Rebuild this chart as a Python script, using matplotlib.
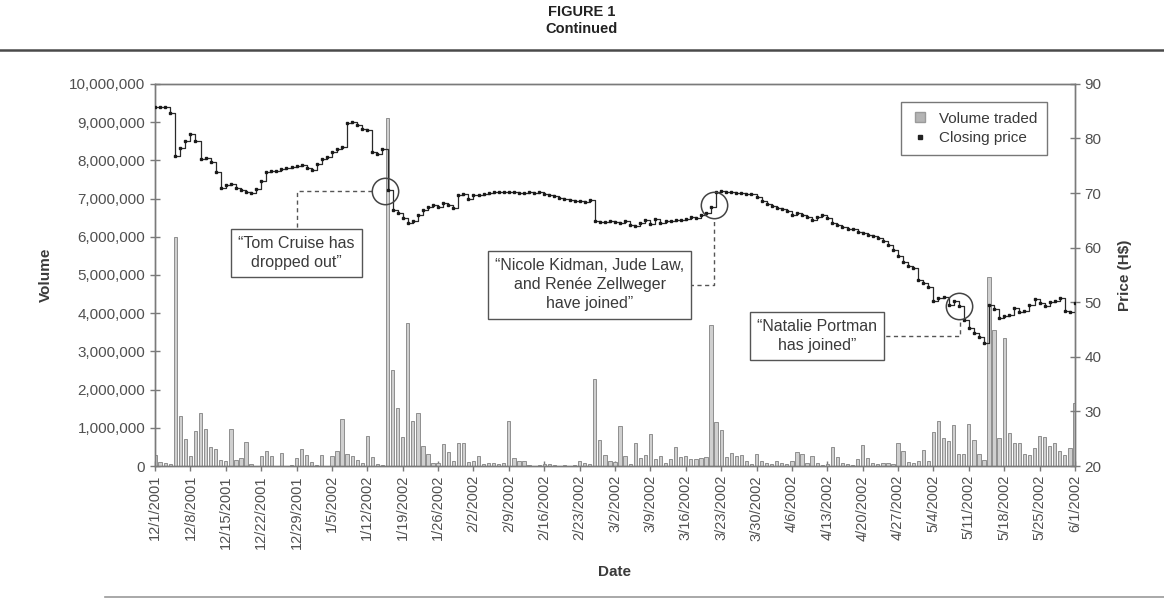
from __future__ import annotations

import matplotlib

matplotlib.use("Agg")
import matplotlib.dates as mdates
import matplotlib.pyplot as plt
import numpy as np
import pandas as pd
from matplotlib.lines import Line2D
from matplotlib.ticker import FuncFormatter, MultipleLocator

# daily volume traded, millions of shares (12/1/2001 .. 6/1/2002)
VOLUME_M = [
    0.30, 0.10, 0.07, 0.05, 6.00, 1.30, 0.71,
    0.27, 0.91, 1.40, 0.98, 0.51, 0.45, 0.16,
    0.13, 0.98, 0.16, 0.22, 0.64, 0.04, 0.00,
    0.25, 0.40, 0.25, 0.00, 0.34, 0.00, 0.03,
    0.22, 0.45, 0.29, 0.10, 0.02, 0.29, 0.00,
    0.25, 0.40, 1.23, 0.31, 0.25, 0.15, 0.09,
    0.78, 0.23, 0.05, 0.02, 9.10, 2.50, 1.53,
    0.75, 3.75, 1.18, 1.38, 0.53, 0.32, 0.09,
    0.09, 0.58, 0.36, 0.14, 0.60, 0.60, 0.11,
    0.14, 0.25, 0.05, 0.09, 0.09, 0.05, 0.09,
    1.18, 0.20, 0.14, 0.14, 0.02, 0.00, 0.02,
    0.06, 0.06, 0.02, 0.00, 0.02, 0.00, 0.03,
    0.12, 0.09, 0.05, 2.29, 0.68, 0.29, 0.14,
    0.10, 1.05, 0.27, 0.05, 0.60, 0.20, 0.29,
    0.84, 0.18, 0.27, 0.09, 0.18, 0.50, 0.23,
    0.27, 0.18, 0.18, 0.20, 0.23, 3.70, 1.14,
    0.95, 0.23, 0.35, 0.27, 0.29, 0.14, 0.05,
    0.32, 0.12, 0.09, 0.05, 0.14, 0.09, 0.05,
    0.14, 0.36, 0.32, 0.09, 0.27, 0.09, 0.02,
    0.05, 0.50, 0.23, 0.09, 0.05, 0.03, 0.18,
    0.56, 0.20, 0.09, 0.05, 0.09, 0.09, 0.05,
    0.61, 0.38, 0.10, 0.09, 0.14, 0.43, 0.13,
    0.90, 1.17, 0.74, 0.65, 1.07, 0.32, 0.32,
    1.10, 0.67, 0.32, 0.15, 4.95, 3.55, 0.74,
    3.35, 0.87, 0.60, 0.60, 0.32, 0.30, 0.48,
    0.78, 0.77, 0.52, 0.60, 0.39, 0.30, 0.48,
    1.65,
]

# daily closing price, H$
CLOSE_PRICE = [
    85.8, 85.8, 85.8, 84.6, 76.8, 78.2, 79.5,
    80.9, 79.5, 76.2, 76.4, 75.6, 73.8, 71.0,
    71.4, 71.6, 71.0, 70.6, 70.2, 70.1, 70.8,
    72.2, 73.8, 74.0, 74.0, 74.4, 74.6, 74.7,
    75.0, 75.2, 74.6, 74.3, 75.4, 76.3, 76.6,
    77.5, 78.1, 78.4, 82.9, 83.1, 82.5, 81.8,
    81.6, 77.5, 77.2, 78.1, 70.5, 66.9, 66.3,
    65.4, 64.5, 64.9, 66.0, 66.9, 67.5, 67.8,
    67.5, 68.1, 67.8, 67.2, 69.6, 69.9, 69.0,
    69.6, 69.7, 69.9, 70.1, 70.2, 70.2, 70.2,
    70.2, 70.2, 70.1, 70.1, 70.2, 70.1, 70.2,
    69.9, 69.7, 69.4, 69.1, 68.9, 68.7, 68.6,
    68.5, 68.4, 68.7, 64.8, 64.7, 64.7, 64.8,
    64.7, 64.6, 64.9, 64.2, 63.9, 64.6, 65.0,
    64.4, 65.2, 64.6, 64.8, 64.9, 65.0, 65.1,
    65.3, 65.6, 65.5, 65.9, 66.3, 67.5, 70.2,
    70.3, 70.2, 70.2, 70.1, 70.0, 69.9, 69.8,
    69.3, 68.5, 68.0, 67.6, 67.3, 67.0, 66.7,
    66.0, 66.3, 65.9, 65.7, 65.0, 65.6, 65.9,
    65.5, 64.5, 64.1, 63.7, 63.5, 63.4, 62.8,
    62.6, 62.4, 62.1, 61.7, 61.2, 60.4, 59.6,
    58.5, 57.4, 56.6, 56.2, 54.0, 53.5, 52.8,
    50.2, 50.7, 51.0, 49.5, 50.2, 49.3, 46.8,
    45.3, 44.4, 43.6, 42.5, 49.5, 48.8, 47.2,
    47.4, 47.7, 49.0, 48.3, 48.4, 49.5, 50.6,
    49.8, 49.4, 50.0, 50.2, 50.7, 48.4, 48.3,
    49.8,
]

START_DATE = "2001-12-01"
END_DATE = "2002-06-01"

# news events: circled move, quote text, quote box centre
EVENT_DATES = ["2002-01-15 12:00", "2002-03-21 12:00", "2002-05-09"]
EVENT_TEXTS = [
    "\u201cTom Cruise has\ndropped out\u201d",
    "\u201cNicole Kidman, Jude Law,\nand Ren\u00e9e Zellweger\nhave joined\u201d",
    "\u201cNatalie Portman\nhas joined\u201d",
]
EVENT_CIRCLE_PRICE = [70.4, 67.8, 49.3]
BOX_DATES = ["2001-12-29", "2002-02-25", "2002-04-11"]
BOX_PRICES = [59.0, 53.2, 43.8]

FONT = ["Liberation Sans", "DejaVu Sans"]
TEXT_GREY = "#3a3a3a"
TICK_GREY = "#505050"
AXIS_GREY = "#7a7a7a"
LEADER = dict(linestyle=(0, (3, 2.5)), color="#555555", linewidth=1.0, zorder=4)


def date_label(d: pd.Timestamp) -> str:
    return f"{d.month}/{d.day}/{d.year}"


def main() -> None:
    plt.rcParams["font.family"] = FONT

    dates = pd.date_range(START_DATE, END_DATE, freq="D")
    volume = np.asarray(VOLUME_M) * 1e6
    price = np.asarray(CLOSE_PRICE)

    fig = plt.figure(figsize=(11.64, 5.99), dpi=100)
    ax = fig.add_axes([0.1332, 0.222, 0.7903, 0.638])
    ax2 = ax.twinx()

    ax.bar(dates, volume, width=0.65, color="#cfcfcf", edgecolor="#8f8f8f",
           linewidth=0.7, zorder=2)
    ax2.plot(dates, price, drawstyle="steps-post", color="#2a2a2a",
             linewidth=0.9, zorder=3)
    ax2.plot(dates, price, linestyle="none", marker="s", markersize=1.8,
             color="#1a1a1a", zorder=4)

    ax.set_xlim(dates[0], dates[-1])
    ax.set_ylim(0, 10_000_000)
    ax2.set_ylim(20, 90)

    week_ticks = pd.date_range(START_DATE, END_DATE, freq="7D")
    ax.set_xticks(mdates.date2num(week_ticks))
    ax.set_xticklabels([date_label(d) for d in week_ticks], rotation=90)
    ax.yaxis.set_major_locator(MultipleLocator(1_000_000))
    ax.yaxis.set_major_formatter(FuncFormatter(lambda v, _: f"{int(v):,}"))
    ax2.yaxis.set_major_locator(MultipleLocator(10))

    for a in (ax, ax2):
        for s in a.spines.values():
            s.set_color(AXIS_GREY)
            s.set_linewidth(1.0)
        a.tick_params(direction="inout", length=7, width=1.0, color=AXIS_GREY,
                      labelcolor=TICK_GREY, labelsize=11)
    ax.tick_params(axis="x", labelsize=10.5, pad=3)

    ax.set_ylabel("Volume", fontsize=11, fontweight="bold", color=TEXT_GREY, labelpad=12)
    ax2.set_ylabel("Price (H$)", fontsize=11, fontweight="bold", color=TEXT_GREY, labelpad=12)
    ax.set_xlabel("Date", fontsize=11, fontweight="bold", color=TEXT_GREY, labelpad=12)

    ev_x = [mdates.date2num(pd.Timestamp(d)) for d in EVENT_DATES]
    box_x = [mdates.date2num(pd.Timestamp(d)) for d in BOX_DATES]

    # event circles and quote boxes
    for ex, txt, cp, bx, bp in zip(ev_x, EVENT_TEXTS, EVENT_CIRCLE_PRICE, box_x, BOX_PRICES):
        ax2.plot(ex, cp, marker="o", markersize=19, markerfacecolor="none",
                 markeredgecolor="#444444", markeredgewidth=1.1, zorder=5)
        ax2.text(bx, bp, txt, ha="center", va="center",
                 fontsize=11.5, color=TEXT_GREY, linespacing=1.35, zorder=6,
                 bbox=dict(boxstyle="square,pad=0.45", facecolor="white",
                           edgecolor="#555555", linewidth=1.0))

    # dashed leaders (start inside the boxes, which hide the first part)
    ax2.plot([ev_x[0] - 2.6, box_x[0], box_x[0]], [70.4, 70.4, 63.4], **LEADER)
    ax2.plot([box_x[1], ev_x[1], ev_x[1]], [BOX_PRICES[1], BOX_PRICES[1], 65.3], **LEADER)
    ax2.plot([box_x[2], ev_x[2] + 0.3, ev_x[2] + 0.3], [BOX_PRICES[2], BOX_PRICES[2], 46.8],
             **LEADER)

    handles = [
        Line2D([], [], linestyle="none", marker="s", markersize=6.5,
               markerfacecolor="#b4b4b4", markeredgecolor="#9a9a9a"),
        Line2D([], [], linestyle="none", marker="s", markersize=2.2, color="#222222"),
    ]
    leg = ax2.legend(handles, ["Volume traded", "Closing price"], loc="upper right",
                     bbox_to_anchor=(0.9696, 0.953), borderaxespad=0.0, fontsize=11,
                     frameon=True, fancybox=False, edgecolor="#777777", framealpha=1.0,
                     handlelength=1.2, handletextpad=0.6, borderpad=0.65,
                     labelspacing=0.35)
    for t in leg.get_texts():
        t.set_color(TEXT_GREY)
    leg.get_frame().set_linewidth(1.0)

    fig.text(0.5, 0.980, "FIGURE 1", ha="center", va="center", fontsize=10.5,
             fontweight="bold", color="#222222")
    fig.text(0.5, 0.952, "Continued", ha="center", va="center", fontsize=10.5,
             fontweight="bold", color="#222222")
    fig.add_artist(Line2D([0.0, 1.0], [0.9165, 0.9165], transform=fig.transFigure,
                          color="#4a4a4a", linewidth=1.8))
    fig.add_artist(Line2D([0.09, 1.0], [0.004, 0.004], transform=fig.transFigure,
                          color="#9a9a9a", linewidth=1.2))

    fig.savefig("out.png", dpi=100)
    plt.close(fig)


if __name__ == "__main__":
    main()
